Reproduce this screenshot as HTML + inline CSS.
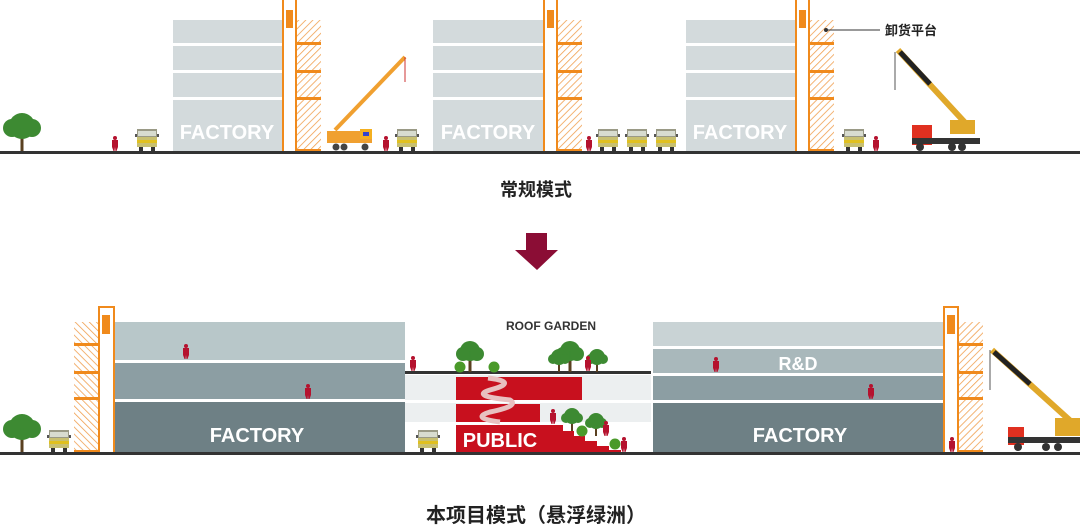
<!DOCTYPE html>
<html><head><meta charset="utf-8"><style>
html,body{margin:0;padding:0;background:#fff;}
svg{display:block}
text{font-family:"Liberation Sans","Noto Sans CJK SC",sans-serif;font-weight:bold}
</style></head><body>
<svg width="1080" height="526" viewBox="0 0 1080 526" xmlns="http://www.w3.org/2000/svg">
<defs>
<pattern id="h" patternUnits="userSpaceOnUse" width="5" height="5" patternTransform="rotate(45)">
<rect width="5" height="5" fill="#fff"/><line x1="0" y1="0" x2="0" y2="5" stroke="#f0a050" stroke-width="1.6"/></pattern>
<pattern id="h2" patternUnits="userSpaceOnUse" width="5" height="5" patternTransform="rotate(-45)">
<rect width="5" height="5" fill="#fff"/><line x1="0" y1="0" x2="0" y2="5" stroke="#f0a050" stroke-width="1.6"/></pattern>
<g id="truck"><rect x="-10" y="0" width="20" height="8" fill="#9a9a86"/><rect x="-9" y="2" width="18" height="5" fill="#d8dcd0"/><rect x="-10" y="8" width="20" height="10" fill="#c8c070"/><rect x="-10" y="11" width="20" height="3" fill="#e0c020"/><rect x="-12" y="5" width="2" height="3" fill="#555"/><rect x="10" y="5" width="2" height="3" fill="#555"/><rect x="-8" y="18" width="4" height="4" fill="#333"/><rect x="4" y="18" width="4" height="4" fill="#333"/></g>
<g id="p"><circle cx="0" cy="-13" r="2" fill="#b5122e"/><path d="M-3,-11 H3 L3,-4 L1.5,0 H0.5 L0,-4 L-0.5,0 H-1.5 L-3,-4Z" fill="#b5122e"/></g>
<g id="tree"><rect x="-1.5" y="-18" width="3" height="18" fill="#5a4020"/><circle cx="0" cy="-26" r="13" fill="#3d8a32"/><circle cx="-10" cy="-24" r="9" fill="#3d8a32"/><circle cx="10" cy="-24" r="9" fill="#3d8a32"/></g>
<g id="tmd"><rect x="-1.5" y="-14" width="3" height="14" fill="#5a4020"/><circle cx="0" cy="-21" r="10" fill="#3d8a32"/><circle cx="-7" cy="-18" r="7" fill="#3d8a32"/><circle cx="7" cy="-18" r="7" fill="#3d8a32"/></g>
<g id="tsm"><rect x="-1" y="-10" width="2" height="10" fill="#5a4020"/><circle cx="0" cy="-15" r="8" fill="#3d8a32"/><circle cx="-6" cy="-13" r="5" fill="#3d8a32"/><circle cx="6" cy="-13" r="5" fill="#3d8a32"/></g>
<g id="bush"><circle cx="0" cy="-5" r="5.5" fill="#4a9a2a"/></g>
</defs>

<!-- TOP ROW -->
<g id="b1">
<rect x="173" y="20" width="110" height="23" fill="#d3dadc"/>
<rect x="173" y="46" width="110" height="24" fill="#d3dadc"/>
<rect x="173" y="73" width="110" height="24" fill="#d3dadc"/>
<rect x="173" y="100" width="110" height="52" fill="#d3dadc"/>
</g>
<use href="#b1" x="260"/><use href="#b1" x="513"/>
<text x="227" y="139" font-size="20" fill="#fff" text-anchor="middle">FACTORY</text>
<text x="488" y="139" font-size="20" fill="#fff" text-anchor="middle">FACTORY</text>
<text x="740" y="139" font-size="20" fill="#fff" text-anchor="middle">FACTORY</text>
<g id="el">
<rect x="283" y="-2" width="13" height="154" fill="#fff" stroke="#f08a1c" stroke-width="2"/>
<rect x="286" y="10" width="7" height="18" fill="#f08a1c"/>
<rect x="297" y="20" width="24" height="132" fill="url(#h)"/>
<rect x="297" y="42" width="24" height="3" fill="#f08a1c"/>
<rect x="297" y="70" width="24" height="3" fill="#f08a1c"/>
<rect x="297" y="97" width="24" height="3" fill="#f08a1c"/>
<rect x="297" y="149" width="24" height="3" fill="#f08a1c"/>
</g>
<use href="#el" x="261"/><use href="#el" x="513"/>
<circle cx="826" cy="30" r="2" fill="#333"/><line x1="826" y1="30" x2="880" y2="30" stroke="#333" stroke-width="1"/>
<text x="885" y="35" font-size="13" fill="#222">卸货平台</text>
<!-- crane 1 -->
<line x1="335" y1="130" x2="405" y2="57" stroke="#f0a030" stroke-width="4"/>
<line x1="405" y1="57" x2="405" y2="82" stroke="#c33" stroke-width="1"/>
<rect x="327" y="131" width="45" height="12" fill="#f0a030"/><rect x="360" y="129" width="12" height="10" fill="#f4b020"/><rect x="363" y="132" width="6" height="4" fill="#34c"/>
<circle cx="336" cy="147" r="3.5" fill="#444"/><circle cx="344" cy="147" r="3.5" fill="#444"/><circle cx="365" cy="147" r="3.5" fill="#444"/>
<!-- crane 2 -->
<line x1="898" y1="50" x2="970" y2="128" stroke="#e0a82a" stroke-width="6"/>
<line x1="900" y1="52" x2="930" y2="84" stroke="#222" stroke-width="5"/>
<line x1="895" y1="52" x2="895" y2="90" stroke="#555" stroke-width="1"/>
<rect x="950" y="120" width="25" height="14" fill="#e0a82a"/>
<rect x="912" y="125" width="20" height="20" fill="#e03020"/><rect x="912" y="138" width="68" height="6" fill="#333"/>
<circle cx="920" cy="147" r="4" fill="#333"/><circle cx="952" cy="147" r="4" fill="#333"/><circle cx="962" cy="147" r="4" fill="#333"/>
<use href="#truck" x="147" y="129"/><use href="#truck" x="407" y="129"/><use href="#truck" x="608" y="129"/><use href="#truck" x="637" y="129"/><use href="#truck" x="666" y="129"/><use href="#truck" x="854" y="129"/>
<use href="#p" x="115" y="151"/><use href="#p" x="386" y="151"/><use href="#p" x="589" y="151"/><use href="#p" x="876" y="151"/>
<use href="#tree" x="22" y="152"/>
<rect x="0" y="151" width="1080" height="3" fill="#333"/>

<text x="536" y="196" font-size="18" fill="#222" text-anchor="middle">常规模式</text>
<path d="M526,233 H547 V250 H558 L537,270 L515,250 H526Z" fill="#8b0d35"/>

<!-- BOTTOM ROW -->
<rect x="115" y="322" width="290" height="38" fill="#b8c7c9"/>
<rect x="115" y="363" width="290" height="36" fill="#8c9ea3"/>
<rect x="115" y="402" width="290" height="51" fill="#6e8085"/>
<text x="257" y="442" font-size="20" fill="#fff" text-anchor="middle">FACTORY</text>
<rect x="99" y="307" width="15" height="146" fill="#fff" stroke="#f08a1c" stroke-width="2"/>
<rect x="102" y="315" width="8" height="19" fill="#f08a1c"/>
<rect x="74" y="322" width="24" height="131" fill="url(#h2)"/>
<rect x="74" y="343" width="24" height="3" fill="#f08a1c"/><rect x="74" y="371" width="24" height="3" fill="#f08a1c"/><rect x="74" y="397" width="24" height="3" fill="#f08a1c"/><rect x="74" y="450" width="24" height="3" fill="#f08a1c"/>

<rect x="653" y="322" width="290" height="24" fill="#c9d3d5"/>
<rect x="653" y="349" width="290" height="24" fill="#a9b8bb"/>
<rect x="653" y="376" width="290" height="24" fill="#8c9ea3"/>
<rect x="653" y="403" width="290" height="50" fill="#6e8085"/>
<text x="798" y="370" font-size="18" fill="#fff" text-anchor="middle">R&amp;D</text>
<text x="800" y="442" font-size="20" fill="#fff" text-anchor="middle">FACTORY</text>
<rect x="944" y="307" width="14" height="146" fill="#fff" stroke="#f08a1c" stroke-width="2"/>
<rect x="947" y="315" width="8" height="19" fill="#f08a1c"/>
<rect x="959" y="322" width="24" height="131" fill="url(#h)"/>
<rect x="959" y="343" width="24" height="3" fill="#f08a1c"/><rect x="959" y="371" width="24" height="3" fill="#f08a1c"/><rect x="959" y="397" width="24" height="3" fill="#f08a1c"/><rect x="959" y="450" width="24" height="3" fill="#f08a1c"/>

<!-- middle -->
<rect x="405" y="375" width="246" height="25" fill="#eceff0"/>
<rect x="405" y="403" width="246" height="19" fill="#eceff0"/>
<rect x="405" y="371" width="246" height="3" fill="#333"/>
<rect x="456" y="377" width="126" height="23" fill="#c8101e"/>
<rect x="456" y="404" width="84" height="18" fill="#c8101e"/>
<path d="M456,425 H563 V431 H574 V436 H585 V441 H597 V446 H609 V450 H621 V453 H456Z" fill="#c8101e"/>
<path d="M488,378 Q520,382 490,390 Q470,396 510,400 Q520,406 490,412 Q470,418 500,422" stroke="#e8c0c0" stroke-width="5" fill="none"/>
<text x="500" y="447" font-size="20" fill="#fff" text-anchor="middle">PUBLIC</text>
<text x="551" y="330" font-size="12" fill="#333" text-anchor="middle">ROOF GARDEN</text>
<use href="#tmd" x="470" y="372"/><use href="#tmd" x="570" y="372"/><use href="#tsm" x="559" y="372"/><use href="#tsm" x="597" y="372"/>
<use href="#bush" x="460" y="372"/><use href="#bush" x="494" y="372"/>
<use href="#tsm" x="572" y="431"/><use href="#tsm" x="596" y="436"/><use href="#bush" x="582" y="436"/><use href="#bush" x="615" y="449"/>
<use href="#p" x="186" y="359"/><use href="#p" x="308" y="399"/><use href="#p" x="413" y="371"/><use href="#p" x="588" y="371"/><use href="#p" x="553" y="424"/><use href="#p" x="606" y="436"/><use href="#p" x="624" y="452"/>
<use href="#p" x="716" y="372"/><use href="#p" x="871" y="399"/><use href="#p" x="952" y="452"/>
<!-- crane bottom -->
<line x1="992" y1="350" x2="1075" y2="425" stroke="#e0a82a" stroke-width="6"/>
<line x1="994" y1="352" x2="1030" y2="384" stroke="#222" stroke-width="5"/>
<line x1="990" y1="350" x2="990" y2="390" stroke="#555" stroke-width="1"/>
<rect x="1055" y="418" width="25" height="18" fill="#e0a82a"/>
<rect x="1008" y="427" width="16" height="18" fill="#e03020"/><rect x="1008" y="437" width="72" height="6" fill="#333"/>
<circle cx="1018" cy="447" r="4" fill="#333"/><circle cx="1046" cy="447" r="4" fill="#333"/><circle cx="1058" cy="447" r="4" fill="#333"/>
<use href="#truck" x="59" y="430"/><use href="#truck" x="428" y="430"/>
<use href="#tree" x="22" y="453"/>
<rect x="0" y="452" width="1080" height="3" fill="#333"/>
<text x="536" y="522" font-size="20" fill="#222" text-anchor="middle">本项目模式（悬浮绿洲）</text>
</svg>
</body></html>
